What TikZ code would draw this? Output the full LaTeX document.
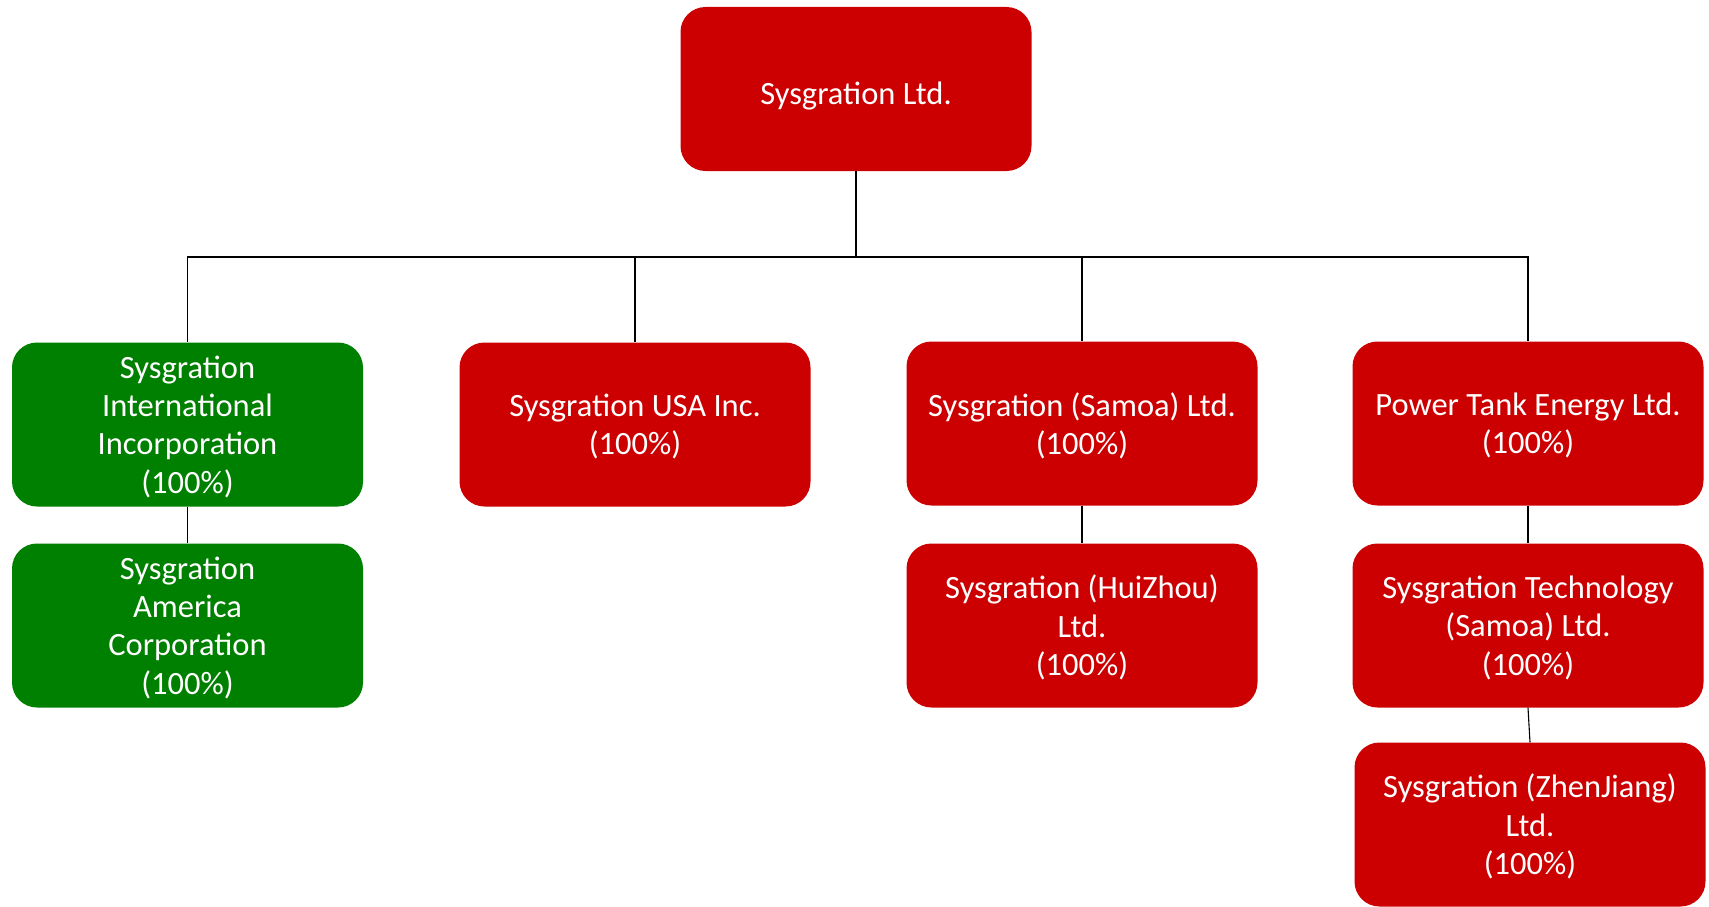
\documentclass[tikz,border=0pt]{standalone}
\usepackage{fontspec}
\setmainfont{Carlito}
\usepackage{tikz}
\usetikzlibrary{calc,positioning}

\definecolor{sysred}{RGB}{204,0,0}
\definecolor{sysgreen}{RGB}{0,128,0}

\tikzset{
  company/.style={draw=none, fill=sysred, text=white, rounded corners=25pt,
    minimum width=351pt, minimum height=164pt, inner sep=0pt, align=center,
    font=\fontsize{32.5}{38.4}\selectfont, text depth=0pt},
  headbox/.style={company, execute at begin node={\rule{0pt}{30pt}}},
  overseas/.style={company, fill=sysgreen},
  link/.style={draw=black, line width=1.1pt}
}

\begin{document}
\begin{tikzpicture}[x=1pt,y=-1pt]
                      \useasboundingbox (0,0) rectangle (1709,907);
                      \node[headbox] (top) at (856,89) {Sysgration Ltd.};
                      \node[overseas] (intl) at (187.5,424.5) {Sysgration\\International\\Incorporation\\(100\%)};
                      \node[company] (usa) at (635,424.5) {Sysgration USA Inc.\\(100\%)};
                      \node[company] (samoa) at (1082,423.5) {Sysgration (Samoa) Ltd.\\(100\%)};
                      \node[company] (power) at (1528,423.5) {Power Tank Energy Ltd.\\(100\%)};
                      \node[overseas] (america) at (187.5,625.5) {Sysgration\\America\\Corporation\\(100\%)};
                      \node[company] (huizhou) at (1082,625.5) {Sysgration (HuiZhou)\\Ltd.\\(100\%)};
                      \node[company] (tech) at (1528,625.5) {Sysgration Technology\\(Samoa) Ltd.\\(100\%)};
                      \node[company] (zhenjiang) at (1530,824.5) {Sysgration (ZhenJiang)\\Ltd.\\(100\%)};
                      \coordinate (bus) at (856,257);
                      \draw[link] (top.south) -- (bus);
                      \foreach \sub in {intl,usa,samoa,power}
                        \draw[link] (bus) -| (\sub.north);
                      \draw[link] (intl.south) -- (america.north);
                      \draw[link] (samoa.south) -- (huizhou.north);
                      \draw[link] (power.south) -- (tech.north);
                      \draw[link] (tech.south) -- (zhenjiang.north);
                  \end{tikzpicture}
\end{document}
